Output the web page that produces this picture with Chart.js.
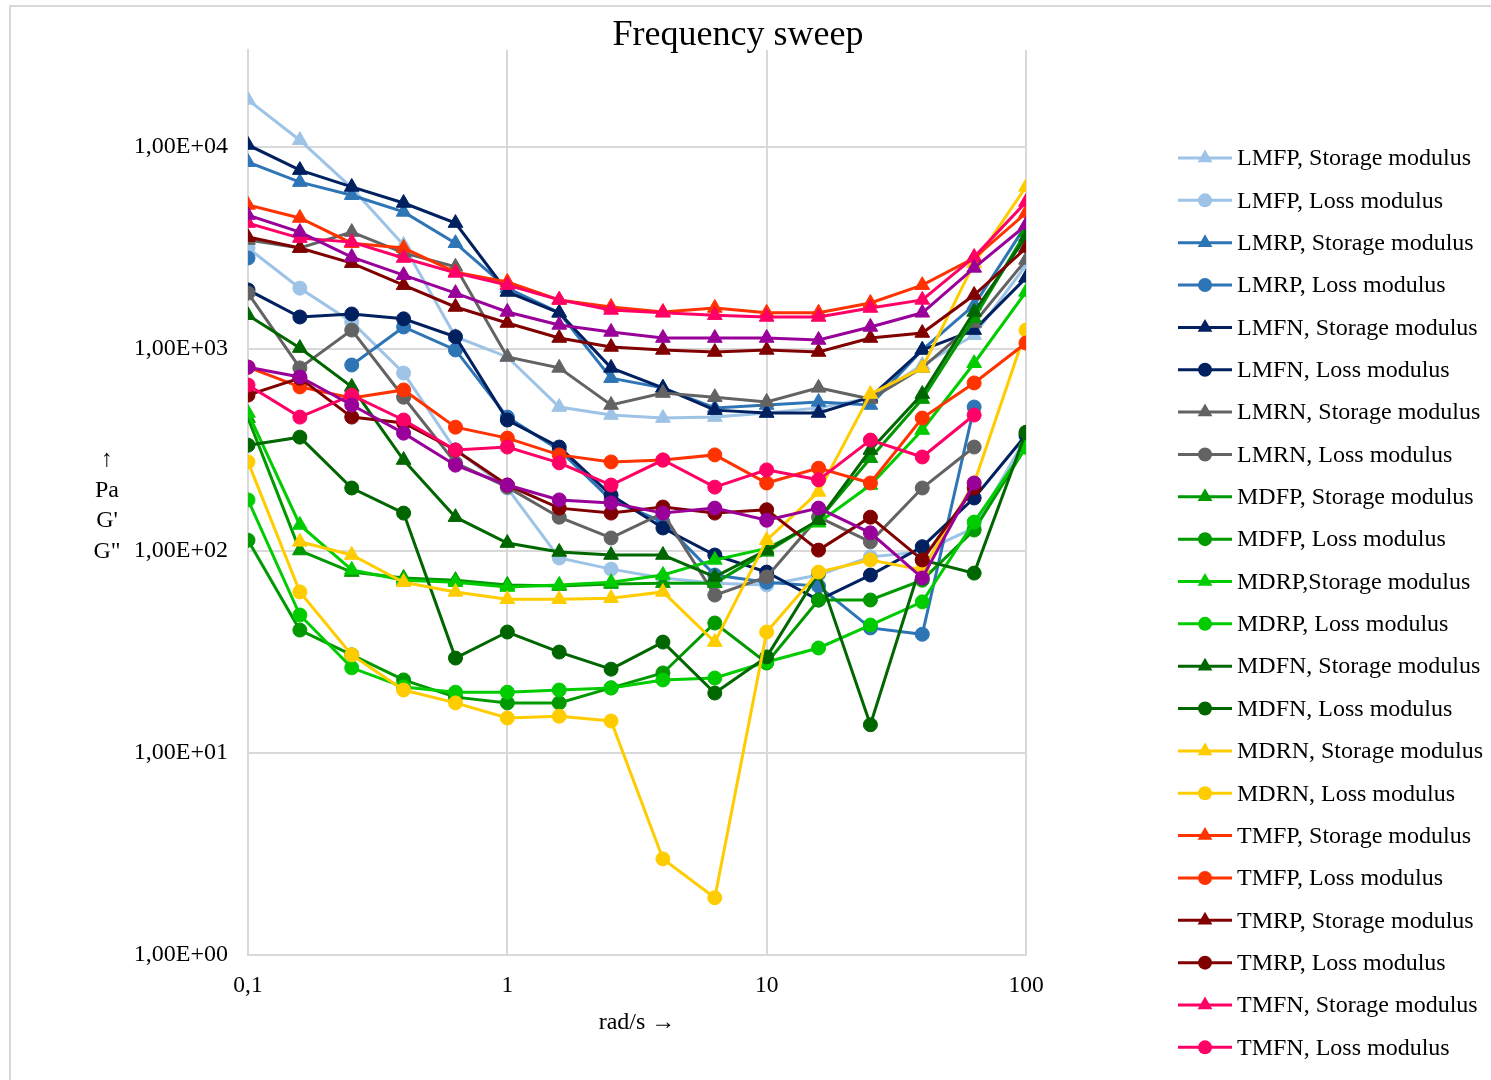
<!DOCTYPE html>
<html>
<head>
<meta charset="utf-8">
<script src="https://cdn.jsdelivr.net/npm/chart.js@4.4.1/dist/chart.umd.min.js"></script>
<style>
  html, body { margin: 0; padding: 0; background: #fff; }
</style>
</head>
<body>
<canvas id="sweepChart" width="1491" height="1080"></canvas>
<script>
// angular frequency, rad/s
const frequencies = [0.1, 0.1585, 0.2512, 0.3981, 0.631, 1, 1.585, 2.512, 3.981, 6.31, 10, 15.85, 25.12, 39.81, 63.1, 100];
const xTicks = [0.1, 1, 10, 100];
const yTicks = [1, 10, 100, 1000, 10000];

// moduli, Pa (null = no point)
const lmfpStorage = [17100, 10800, 6270, 3270, 1150, 913, 516, 471, 455, 460, 482, 511, 572, 833, 1170, 2600];
const lmfpLoss    = [3160, 2000, 1360, 760, 316, 205, 92.3, 81.3, 73.5, 69.3, 67.9, 76, 93.5, 99, 130, 366];
const lmrpStorage = [8410, 6700, 5770, 4770, 3340, 2000, 1510, 717, 642, 511, 528, 547, 528, 990, 1650, 4100];
const lmrpLoss    = [2820, null, 833, 1285, 989, 460, 316, 179, 139, 76, 70, 67, 41.6, 38.7, 516, null];
const lmfnStorage = [10230, 7680, 6340, 5280, 4200, 1915, 1510, 806, 642, 498, 482, 482, 577, 989, 1240, 2250];
const lmfnLoss    = [1960, 1440, 1490, 1410, 1150, 445, 327, 189, 130, 95.5, 78.6, 57.2, 76, 105, 183, 375];
const lmrnStorage = [3460, 3160, 3790, 2990, 2550, 913, 806, 528, 605, 577, 547, 642, 565, 806, 1345, 2760];
const lmrnLoss    = [1890, 806, 1240, 577, 273, 207, 147, 116, 154, 60.5, 74.4, 147, 111, 205, 327, null];
const mdfpStorage = [455, 100.5, 78.6, 73.5, 71.7, 67.9, 67, 68.6, 69.3, 69.3, 99, 142, 288, 565, 1420, 3790];
const mdfpLoss    = [113, 40.6, 30.6, 23, 18.9, 17.7, 17.7, 21, 24.9, 44, 27.9, 57.2, 57.2, 71.7, 127, 327];
const mdrpStorage = [482, 134.5, 80.6, 71.7, 70, 66.3, 67.9, 70, 76, 90.3, 103, 138, 212, 397, 850, 1915];
const mdrpLoss    = [179, 48.2, 26.4, 21.2, 20, 20, 20.5, 21, 23, 23.5, 28.2, 33.1, 43, 56, 139, 327];
const mdfnStorage = [1470, 1010, 649, 282, 147, 109.5, 98.9, 95.5, 95.5, 74.4, 101, 142, 316, 598, 1525, 3580];
const mdfnLoss    = [334, 366, 205, 154, 29.5, 39.7, 31.6, 26, 35.4, 19.8, 29.9, 77.7, 13.8, 90.3, 77.7, 387];
const mdrnStorage = [null, 111, 95.5, 70, 62.7, 57.7, 57.7, 58.4, 62.7, 35.4, 113, 196, 598, 806, 2660, 6340];
const mdrnLoss    = [276, 62.7, 30.6, 20.5, 17.7, 14.9, 15.2, 14.4, 2.99, 1.92, 39.7, 78.6, 90.3, 80.6, 217, 1240];
const tmfpStorage = [5160, 4450, 3340, 3160, 2400, 2145, 1750, 1614, 1525, 1595, 1510, 1510, 1690, 2070, 2820, 4710];
const tmfpLoss    = [813, 649, 572, 627, 410, 362, 299, 276, 282, 299, 217, 257, 217, 455, 679, 1070];
const tmrpStorage = [3580, 3160, 2660, 2070, 1614, 1345, 1133, 1023, 989, 966, 989, 966, 1133, 1200, 1850, 3160];
const tmrpLoss    = [591, 717, 460, 430, 316, 212, 163, 154, 165, 154, 160, 101, 147, 90.3, 205, null];
const tmfnStorage = [4200, 3540, 3380, 2820, 2380, 2070, 1750, 1560, 1510, 1470, 1440, 1440, 1595, 1750, 2850, 5340];
const tmfnLoss    = [663, 460, 591, 445, 316, 327, 273, 212, 282, 207, 252, 225, 354, 292, 471, null];
// purple pair, not listed in the legend
const extraStorage = [4600, 3790, 2850, 2320, 1890, 1525, 1315, 1214, 1133, 1133, 1133, 1108, 1285, 1510, 2520, 4100];
const extraLoss    = [813, 727, 528, 383, 266, 212, 179, 173, 154, 163, 142, 163, 123, 73.5, 217, null];

const series = [
  ['LMFP, Storage modulus', lmfpStorage, '#9DC3E6', 'triangle'],
  ['LMFP, Loss modulus', lmfpLoss, '#9DC3E6', 'circle'],
  ['LMRP, Storage modulus', lmrpStorage, '#2E75B6', 'triangle'],
  ['LMRP, Loss modulus', lmrpLoss, '#2E75B6', 'circle'],
  ['LMFN, Storage modulus', lmfnStorage, '#002060', 'triangle'],
  ['LMFN, Loss modulus', lmfnLoss, '#002060', 'circle'],
  ['LMRN, Storage modulus', lmrnStorage, '#636363', 'triangle'],
  ['LMRN, Loss modulus', lmrnLoss, '#636363', 'circle'],
  ['MDFP, Storage modulus', mdfpStorage, '#009900', 'triangle'],
  ['MDFP, Loss modulus', mdfpLoss, '#009900', 'circle'],
  ['MDRP,Storage modulus', mdrpStorage, '#00CC00', 'triangle'],
  ['MDRP, Loss modulus', mdrpLoss, '#00CC00', 'circle'],
  ['MDFN, Storage modulus', mdfnStorage, '#006600', 'triangle'],
  ['MDFN, Loss modulus', mdfnLoss, '#006600', 'circle'],
  ['MDRN, Storage modulus', mdrnStorage, '#FFCC00', 'triangle'],
  ['MDRN, Loss modulus', mdrnLoss, '#FFCC00', 'circle'],
  ['TMFP, Storage modulus', tmfpStorage, '#FF3300', 'triangle'],
  ['TMFP, Loss modulus', tmfpLoss, '#FF3300', 'circle'],
  ['TMRP, Storage modulus', tmrpStorage, '#800000', 'triangle'],
  ['TMRP, Loss modulus', tmrpLoss, '#800000', 'circle'],
  ['TMFN, Storage modulus', tmfnStorage, '#FF0066', 'triangle'],
  ['TMFN, Loss modulus', tmfnLoss, '#FF0066', 'circle'],
  ['', extraStorage, '#990099', 'triangle'],
  ['', extraLoss, '#990099', 'circle']
];

const serif = '"Liberation Serif", "Times New Roman", serif';
const gridColor = '#d9d9d9';

const datasets = series.map(([label, values, color, shape], i) => ({
  label: label,
  data: values.map((v, k) => ({ x: frequencies[k], y: v })),
  borderColor: color,
  backgroundColor: color,
  borderWidth: 3,
  pointStyle: shape,
  pointRadius: shape === 'triangle' ? 8.5 : 7,
  pointBorderWidth: 1,
  spanGaps: false,
  order: series.length - i
}));

// frame, title, y title and the line+marker legend
const decorPlugin = {
  id: 'decor',
  afterDraw(chart) {
    const ctx = chart.ctx;
    ctx.save();
    ctx.strokeStyle = gridColor;
    ctx.lineWidth = 2;
    ctx.strokeRect(10, 6, 1500, 1100);

    ctx.fillStyle = '#000';
    ctx.textAlign = 'center';
    ctx.textBaseline = 'middle';
    ctx.font = '36px ' + serif;
    ctx.fillText('Frequency sweep', 738, 36);

    ctx.font = '24px ' + serif;
    ['↑', 'Pa', "G'", 'G"'].forEach((t, i) => ctx.fillText(t, 107, 460 + i * 30.5));

    ctx.textAlign = 'left';
    series.forEach(([label, , color, shape], i) => {
      if (!label) return;
      const y = 158 + i * 42.35;
      ctx.strokeStyle = color;
      ctx.fillStyle = color;
      ctx.lineWidth = 3;
      ctx.beginPath();
      ctx.moveTo(1178, y);
      ctx.lineTo(1232, y);
      ctx.stroke();
      ctx.beginPath();
      if (shape === 'circle') {
        ctx.arc(1205, y, 7, 0, Math.PI * 2);
      } else {
        const r = 8.5;
        ctx.moveTo(1205, y - r);
        ctx.lineTo(1205 + r * Math.cos(Math.PI / 6), y + r / 2);
        ctx.lineTo(1205 - r * Math.cos(Math.PI / 6), y + r / 2);
        ctx.closePath();
      }
      ctx.fill();
      ctx.fillStyle = '#000';
      ctx.fillText(label, 1237, y + 1);
    });
    ctx.restore();
  }
};

new Chart(document.getElementById('sweepChart'), {
  type: 'line',
  data: { datasets: datasets },
  options: {
    responsive: false,
    animation: false,
    layout: { padding: { top: 50, left: 0, right: 465, bottom: 0 } },
    scales: {
      x: {
        type: 'logarithmic',
        min: 0.1,
        max: 100,
        afterBuildTicks: axis => { axis.ticks = xTicks.map(v => ({ value: v })); },
        afterFit: axis => { axis.height = 125; },
        grid: { color: gridColor, lineWidth: 2, drawTicks: false },
        border: { color: gridColor, width: 2 },
        ticks: {
          color: '#000',
          font: { family: serif, size: 23.5 },
          padding: 17,
          maxRotation: 0,
          callback: v => (v === 0.1 ? '0,1' : String(v))
        },
        title: {
          display: true,
          text: 'rad/s →',
          color: '#000',
          font: { family: serif, size: 24 },
          padding: { top: 0, bottom: 43 }
        }
      },
      y: {
        type: 'logarithmic',
        min: 1,
        max: 30200,
        afterBuildTicks: axis => { axis.ticks = yTicks.map(v => ({ value: v })); },
        afterFit: axis => { axis.width = 248; },
        grid: { color: gridColor, lineWidth: 2, drawTicks: false },
        border: { color: gridColor, width: 2 },
        ticks: {
          color: '#000',
          font: { family: serif, size: 24 },
          padding: 20,
          callback: v => '1,00E+' + String(Math.round(Math.log10(v))).padStart(2, '0')
        }
      }
    },
    plugins: {
      legend: { display: false },
      tooltip: { enabled: false },
      title: { display: false }
    }
  },
  plugins: [decorPlugin]
});
</script>
</body>
</html>
